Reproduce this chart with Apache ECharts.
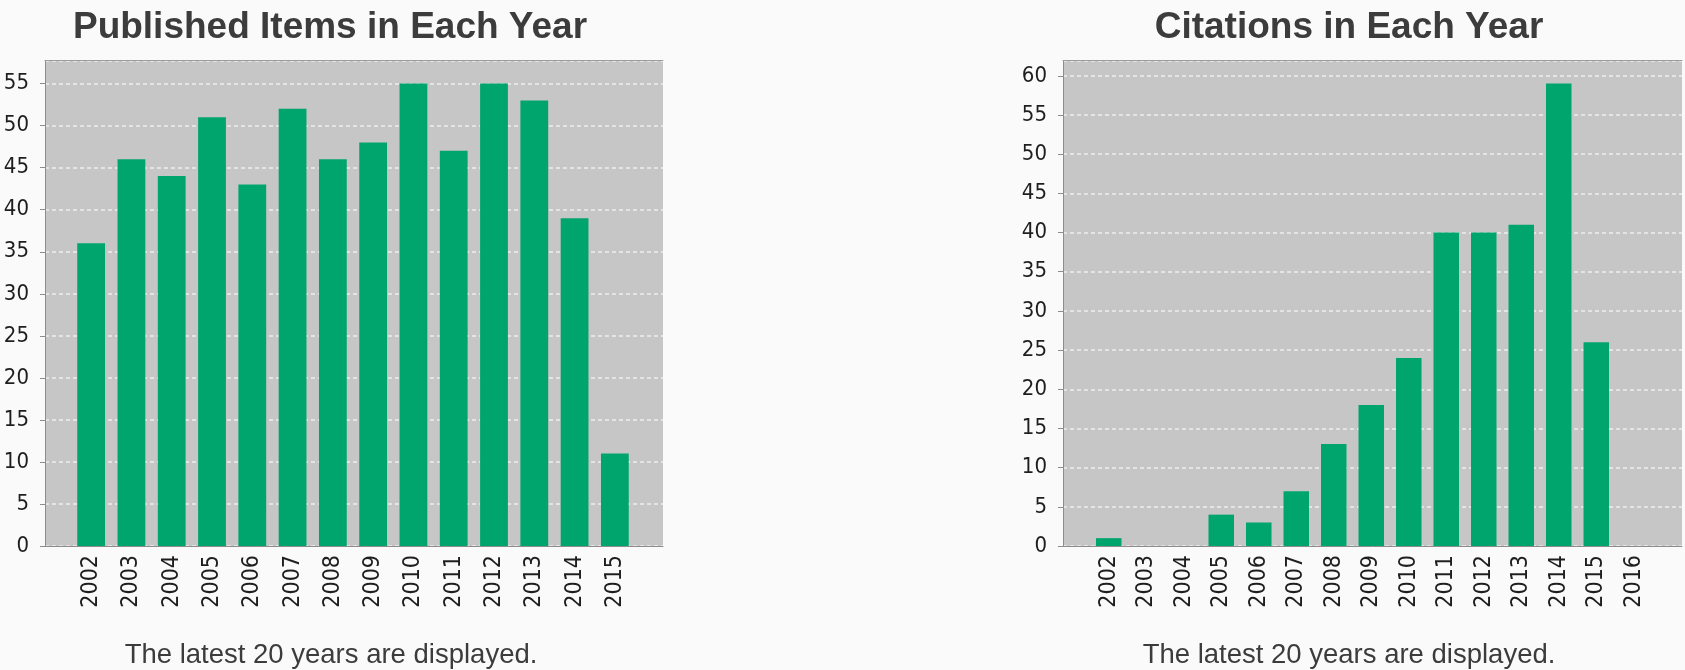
<!DOCTYPE html>
<html>
<head>
<meta charset="utf-8">
<script src="https://cdn.jsdelivr.net/npm/echarts@6/dist/echarts.min.js"></script>
<style>
html,body{margin:0;padding:0;background:#fafafa;}
#chart{width:1685px;height:670px;}
</style>
</head>
<body>
<div id="chart"></div>
<script>
const pubYears = ['2002','2003','2004','2005','2006','2007','2008','2009','2010','2011','2012','2013','2014','2015'];
const pubValues = [36, 46, 44, 51, 43, 52, 46, 48, 55, 47, 55, 53, 39, 11];
const citYears = ['2002','2003','2004','2005','2006','2007','2008','2009','2010','2011','2012','2013','2014','2015','2016'];
const citValues = [1, 0, 0, 4, 3, 7, 13, 18, 24, 40, 40, 41, 59, 26, 0];
const titleLeft = 'Published Items in Each Year';
const titleRight = 'Citations in Each Year';
const footerText = 'The latest 20 years are displayed.';

const narrow = "'DejaVu Sans Condensed', 'Liberation Sans Narrow', sans-serif";
const sans = "'Liberation Sans', Arial, sans-serif";
const barColor = '#00a56e';
const plotBg = '#c6c6c6';

const pubMax = Math.max(...pubValues) * 1.05;
const citMax = Math.max(...citValues) * 1.05;

function frameY(grid, max) {
  return {
    type: 'value', gridIndex: grid, min: 0, max: max, interval: 5,
    axisLine: {show: true, lineStyle: {color: '#8c8c8c', width: 1}},
    axisTick: {show: true, length: 5, lineStyle: {color: '#8c8c8c'}},
    axisLabel: {
      margin: 16, color: '#1e1e1e', fontFamily: narrow, fontSize: 22,
      showMaxLabel: false,
      formatter: v => (v % 5 === 0 ? String(v) : '')
    },
    splitLine: {show: true, lineStyle: {color: '#eeeeee', width: 1.5, type: [4, 3]}}
  };
}
function hiddenY(grid, max) {
  return {type: 'value', gridIndex: grid, min: 0, max: max, show: false, splitLine: {show: false}};
}
function frameX(grid, pos, color) {
  return {
    type: 'value', gridIndex: grid, position: pos, min: 0, max: 1,
    axisLine: {show: true, onZero: false, lineStyle: {color: color, width: 1}},
    axisTick: {show: false}, axisLabel: {show: false}, splitLine: {show: false}
  };
}
function catX(grid, data) {
  return {
    type: 'category', gridIndex: grid, data: data,
    axisLine: {show: false}, axisTick: {show: false},
    axisLabel: {interval: 0, rotate: 90, margin: 9, color: '#1e1e1e', fontFamily: narrow, fontSize: 23}
  };
}

const chart = echarts.init(document.getElementById('chart'), null, {renderer: 'canvas'});
chart.setOption({
  backgroundColor: '#fafafa',
  animation: false,
  grid: [
    {left: 45, right: 1022, top: 60.5, bottom: 124, show: true, backgroundColor: plotBg, borderWidth: 0},
    {left: 71, right: 1050, top: 60.5, bottom: 124},
    {left: 1063, right: 3, top: 60.5, bottom: 124, show: true, backgroundColor: plotBg, borderWidth: 0},
    {left: 1090, right: 32.5, top: 60.5, bottom: 124}
  ],
  xAxis: [
    frameX(0, 'bottom', '#8c8c8c'),
    frameX(0, 'top', '#9c9c9c'),
    catX(1, pubYears),
    frameX(2, 'bottom', '#8c8c8c'),
    frameX(2, 'top', '#9c9c9c'),
    catX(3, citYears)
  ],
  yAxis: [
    frameY(0, pubMax),
    hiddenY(1, pubMax),
    frameY(2, citMax),
    hiddenY(3, citMax)
  ],
  series: [
    {type: 'bar', xAxisIndex: 2, yAxisIndex: 1, data: pubValues, barCategoryGap: '31%', itemStyle: {color: barColor}},
    {type: 'bar', xAxisIndex: 5, yAxisIndex: 3, data: citValues, barCategoryGap: '32%', itemStyle: {color: barColor}}
  ],
  graphic: [
    {type: 'text', x: 330, y: 27.5, style: {text: titleLeft, align: 'center', verticalAlign: 'middle', fill: '#3c3c3c', font: "bold 37px " + sans}},
    {type: 'text', x: 1349, y: 27.5, style: {text: titleRight, align: 'center', verticalAlign: 'middle', fill: '#3c3c3c', font: "bold 37px " + sans}},
    {type: 'text', x: 331, y: 655, style: {text: footerText, align: 'center', verticalAlign: 'middle', fill: '#3c3c3c', font: "27.5px " + sans}},
    {type: 'text', x: 1349, y: 655, style: {text: footerText, align: 'center', verticalAlign: 'middle', fill: '#3c3c3c', font: "27.5px " + sans}}
  ]
});
</script>
</body>
</html>
